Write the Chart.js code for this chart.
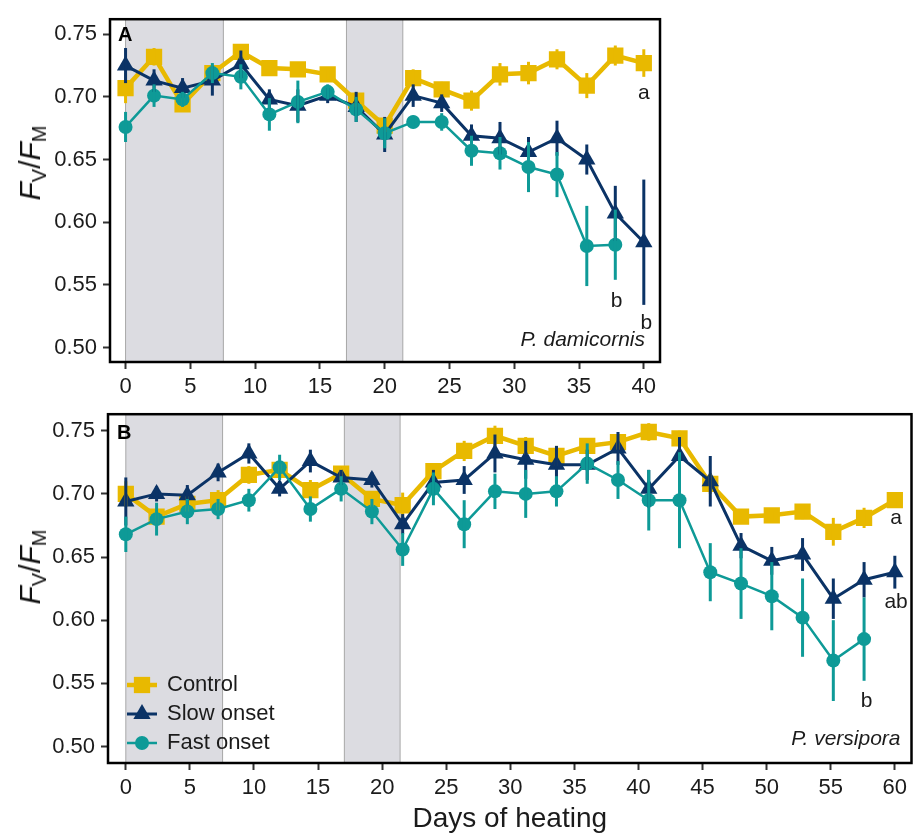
<!DOCTYPE html>
<html>
<head>
<meta charset="utf-8">
<script src="https://cdn.jsdelivr.net/npm/chart.js@4.4.0/dist/chart.umd.min.js"></script>
<style>
  body { margin: 0; background: #fff; width: 923px; height: 836px; position: relative; overflow: hidden;
         font-family: "Liberation Sans", Arial, sans-serif; }
  canvas { position: absolute; left: 0; }
  #chartA { top: 0; }
  #chartB { top: 395px; }
  .ylab { position: absolute; font-size: 30px; color: #111; white-space: nowrap;
          transform: translate(-50%, -50%) rotate(-90deg); }
  .ylab sub { font-size: 20px; vertical-align: baseline; position: relative; top: 0.3em; }
</style>
</head>
<body>
<canvas id="chartA" width="672" height="400" style="width:672px;height:400px"></canvas>
<canvas id="chartB" width="923" height="441" style="width:923px;height:441px"></canvas>
<div class="ylab" style="left:30px;top:163px"><i>F</i><sub>V</sub>/<i>F</i><sub>M</sub></div>
<div class="ylab" style="left:30px;top:567px"><i>F</i><sub>V</sub>/<i>F</i><sub>M</sub></div>
<script>
// ---- data ----
const daysA = [0, 2.2, 4.4, 6.7, 8.9, 11.1, 13.3, 15.6, 17.8, 20, 22.2, 24.4, 26.7, 28.9, 31.1, 33.3, 35.6, 37.8, 40];
const controlA    = [0.707, 0.732, 0.694, 0.719, 0.736, 0.723, 0.722, 0.718, 0.697, 0.677, 0.715, 0.706, 0.697, 0.718, 0.719, 0.730, 0.709, 0.733, 0.727];
const controlAErr = [0.012, 0.007, 0.006, 0.006, 0.006, 0.004, 0.005, 0.004, 0.005, 0.005, 0.007, 0.006, 0.008, 0.009, 0.009, 0.008, 0.010, 0.008, 0.011];
const slowA       = [0.725, 0.713, 0.707, 0.713, 0.726, 0.698, 0.693, 0.701, 0.692, 0.670, 0.701, 0.695, 0.669, 0.667, 0.656, 0.667, 0.650, 0.607, 0.584];
const slowAErr    = [0.014, 0.009, 0.008, 0.012, 0.011, 0.008, 0.013, 0.006, 0.012, 0.014, 0.009, 0.007, 0.009, 0.013, 0.012, 0.014, 0.012, 0.022, 0.050];
const fastA       = [0.676, 0.701, 0.698, 0.719, 0.716, 0.686, 0.696, 0.704, 0.690, 0.671, 0.680, 0.680, 0.657, 0.655, 0.644, 0.638, 0.581, 0.582, null];
const fastAErr    = [0.012, 0.009, 0.006, 0.008, 0.010, 0.013, 0.017, 0.006, 0.010, 0.012, 0.005, 0.007, 0.012, 0.013, 0.020, 0.018, 0.032, 0.028, null];

const daysB = [0, 2.4, 4.8, 7.2, 9.6, 12, 14.4, 16.8, 19.2, 21.6, 24, 26.4, 28.8, 31.2, 33.6, 36, 38.4, 40.8, 43.2, 45.6, 48, 50.4, 52.8, 55.2, 57.6, 60];
const controlB    = [0.700, 0.682, 0.692, 0.695, 0.715, 0.719, 0.703, 0.716, 0.696, 0.691, 0.718, 0.734, 0.746, 0.738, 0.730, 0.738, 0.741, 0.749, 0.744, 0.708, 0.682, 0.683, 0.686, 0.670, 0.681, 0.695];
const controlBErr = [0.010, 0.006, 0.006, 0.008, 0.007, 0.005, 0.008, 0.005, 0.006, 0.010, 0.006, 0.008, 0.008, 0.007, 0.008, 0.006, 0.006, 0.007, 0.006, 0.008, 0.005, 0.004, 0.006, 0.011, 0.008, 0.004];
const slowB       = [0.694, 0.700, 0.699, 0.717, 0.732, 0.704, 0.726, 0.713, 0.711, 0.676, 0.709, 0.711, 0.732, 0.727, 0.723, 0.723, 0.736, 0.704, 0.730, 0.710, 0.659, 0.647, 0.652, 0.617, 0.632, 0.638];
const slowBErr    = [0.019, 0.006, 0.008, 0.007, 0.008, 0.006, 0.009, 0.006, 0.006, 0.008, 0.010, 0.011, 0.015, 0.015, 0.015, 0.012, 0.013, 0.015, 0.015, 0.020, 0.010, 0.011, 0.013, 0.016, 0.014, 0.013];
const fastB       = [0.668, 0.680, 0.686, 0.688, 0.695, 0.721, 0.688, 0.704, 0.686, 0.656, 0.704, 0.676, 0.702, 0.700, 0.702, 0.724, 0.711, 0.695, 0.695, 0.638, 0.629, 0.619, 0.602, 0.568, 0.585, null];
const fastBErr    = [0.014, 0.013, 0.010, 0.008, 0.009, 0.010, 0.010, 0.010, 0.010, 0.013, 0.013, 0.019, 0.014, 0.019, 0.012, 0.016, 0.015, 0.024, 0.038, 0.023, 0.028, 0.027, 0.031, 0.032, 0.033, null];

// heating periods (shaded), in days
const shadeDays = [[0, 7.55], [17.05, 21.4]];

const xTicksA = [0, 5, 10, 15, 20, 25, 30, 35, 40];
const xTicksB = [0, 5, 10, 15, 20, 25, 30, 35, 40, 45, 50, 55, 60];
const yTicks  = [0.50, 0.55, 0.60, 0.65, 0.70, 0.75];

const lettersA = [{x: 40, y: 0.703, text: 'a'}, {x: 37.9, y: 0.537, text: 'b'}, {x: 40.2, y: 0.519, text: 'b'}];
const lettersB = [{x: 60.1, y: 0.681, text: 'a'}, {x: 60.1, y: 0.614, text: 'ab'}, {x: 57.8, y: 0.536, text: 'b'}];

const seriesNames = ['Control', 'Slow onset', 'Fast onset'];

// ---- styling ----
const FONT = '"Liberation Sans", Arial, sans-serif';
const COL = { control: '#E8B900', slow: '#0B3366', fast: '#0E9A97' };
const INK = '#1b1b1b';

function pts(days, vals) {
    return days.map((d, i) => ({x: d, y: vals[i]}));
}

function makeDatasets(days, c, ce, s, se, f, fe) {
    return [
        { label: seriesNames[0], data: pts(days, c), errors: ce, borderColor: COL.control, backgroundColor: COL.control,
          borderWidth: 4.5, pointStyle: 'rect', pointRadius: 11.5, order: 3 },
        { label: seriesNames[1], data: pts(days, s), errors: se, borderColor: COL.slow, backgroundColor: COL.slow,
          borderWidth: 3, pointStyle: 'triangle', pointRadius: 10, order: 2 },
        { label: seriesNames[2], data: pts(days, f), errors: fe, borderColor: COL.fast, backgroundColor: COL.fast,
          borderWidth: 2.5, pointStyle: 'circle', pointRadius: 7, order: 1 }
    ].map(ds => Object.assign(ds, { pointBorderWidth: 0, pointHoverRadius: ds.pointRadius, tension: 0, spanGaps: false }));
}

function marker(ctx, style, x, y, r) {
    ctx.beginPath();
    if (style === 'rect') {
        const h = Math.SQRT1_2 * r;
        ctx.rect(x - h, y - h, 2 * h, 2 * h);
    } else if (style === 'triangle') {
        for (let k = 0; k < 3; k++) {
            const a = k * 2 * Math.PI / 3;
            const px = x + Math.sin(a) * r, py = y - Math.cos(a) * r;
            k ? ctx.lineTo(px, py) : ctx.moveTo(px, py);
        }
        ctx.closePath();
    } else {
        ctx.arc(x, y, r, 0, Math.PI * 2);
    }
    ctx.fill();
}

const decor = {
    id: 'decor',
    beforeDatasetsDraw(chart, args, opts) {
        const {ctx, chartArea: a, scales: {x}} = chart;
        ctx.save();
        shadeDays.forEach(([s0, s1]) => {
            const x0 = x.getPixelForValue(s0), x1 = x.getPixelForValue(s1);
            ctx.fillStyle = '#DCDCE1';
            ctx.fillRect(x0, a.top, x1 - x0, a.bottom - a.top);
            ctx.strokeStyle = '#A8A8A8';
            ctx.lineWidth = 1;
            ctx.beginPath();
            ctx.moveTo(x0, a.top); ctx.lineTo(x0, a.bottom);
            ctx.moveTo(x1, a.top); ctx.lineTo(x1, a.bottom);
            ctx.stroke();
        });
        ctx.restore();
    },
    afterDatasetsDraw(chart) {
        // error bars (mean +/- SE)
        const {ctx, scales: {x, y}} = chart;
        ctx.save();
        chart.data.datasets.forEach(ds => {
            ctx.strokeStyle = ds.borderColor;
            ctx.lineWidth = 3;
            ds.data.forEach((p, i) => {
                if (p.y == null) return;
                const e = ds.errors[i];
                const px = x.getPixelForValue(p.x);
                ctx.beginPath();
                ctx.moveTo(px, y.getPixelForValue(p.y - e));
                ctx.lineTo(px, y.getPixelForValue(p.y + e));
                ctx.stroke();
            });
        });
        ctx.restore();
    },
    afterDraw(chart, args, opts) {
        const {ctx, chartArea: a, scales: {x, y}} = chart;
        ctx.save();
        // frame
        ctx.strokeStyle = '#000';
        ctx.lineWidth = 2.5;
        ctx.strokeRect(a.left, a.top, a.right - a.left, a.bottom - a.top);

        // panel letter
        ctx.fillStyle = '#000';
        ctx.font = 'bold 20px ' + FONT;
        ctx.textAlign = 'left';
        ctx.textBaseline = 'middle';
        ctx.fillText(opts.panel, a.left + opts.panelDx, a.top + opts.panelDy);

        // species
        ctx.fillStyle = INK;
        ctx.font = 'italic 21px ' + FONT;
        ctx.textAlign = 'right';
        ctx.textBaseline = 'alphabetic';
        ctx.fillText(opts.species, a.right - opts.speciesDx, a.bottom - opts.speciesDy);

        // significance letters
        ctx.font = '21px ' + FONT;
        ctx.textAlign = 'center';
        ctx.textBaseline = 'middle';
        opts.letters.forEach(l => ctx.fillText(l.text, x.getPixelForValue(l.x), y.getPixelForValue(l.y)));

        // legend
        if (opts.legend) {
            const rows = [a.bottom - 78, a.bottom - 49, a.bottom - 20];
            chart.data.datasets.forEach((ds, i) => {
                const cy = rows[i], cx = a.left + 32;
                ctx.strokeStyle = ds.borderColor;
                ctx.fillStyle = ds.backgroundColor;
                ctx.lineWidth = ds.borderWidth;
                ctx.beginPath();
                ctx.moveTo(cx - 13, cy); ctx.lineTo(cx + 17, cy);
                ctx.stroke();
                marker(ctx, ds.pointStyle, cx + 2, cy, ds.pointRadius);
                ctx.fillStyle = INK;
                ctx.font = '22px ' + FONT;
                ctx.textAlign = 'left';
                ctx.fillText(ds.label, cx + 27, cy);
            });
        }
        ctx.restore();
    }
};

function axisOptions(xmin, xmax, ymin, ymax, xTicks, yAxisWidth, xAxisHeight, xTitle) {
    const grid = { drawOnChartArea: false, drawTicks: true, tickLength: 7, tickColor: '#333', tickWidth: 2 };
    return {
        x: {
            type: 'linear', min: xmin, max: xmax,
            afterBuildTicks: s => { s.ticks = xTicks.map(v => ({value: v})); },
            afterFit: s => { s.height = xAxisHeight; },
            ticks: { autoSkip: false, maxRotation: 0, padding: 5, color: INK, font: {family: FONT, size: 22} },
            grid: grid,
            border: { display: false },
            title: { display: !!xTitle, text: xTitle || '', color: INK, padding: 0, font: {family: FONT, size: 28} }
        },
        y: {
            type: 'linear', min: ymin, max: ymax,
            afterBuildTicks: s => { s.ticks = yTicks.map(v => ({value: v})); },
            afterFit: s => { s.width = yAxisWidth; },
            ticks: { padding: 6, color: INK, font: {family: FONT, size: 22}, callback: v => v.toFixed(2) },
            grid: grid,
            border: { display: false }
        }
    };
}

new Chart(document.getElementById('chartA'), {
    type: 'line',
    data: { datasets: makeDatasets(daysA, controlA, controlAErr, slowA, slowAErr, fastA, fastAErr) },
    options: {
        responsive: false, animation: false,
        layout: { padding: { left: 0, right: 12, top: 10, bottom: 0 } },
        scales: axisOptions(-1.2, 41.25, 0.4884, 0.762, xTicksA, 110, 38),
        plugins: {
            legend: { display: false }, tooltip: { enabled: false },
            decor: { panel: 'A', panelDx: 8, panelDy: 16, species: 'P. damicornis', speciesDx: 15, speciesDy: 16,
                     letters: lettersA, legend: false }
        }
    },
    plugins: [decor]
});

new Chart(document.getElementById('chartB'), {
    type: 'line',
    data: { datasets: makeDatasets(daysB, controlB, controlBErr, slowB, slowBErr, fastB, fastBErr) },
    options: {
        responsive: false, animation: false,
        layout: { padding: { left: 0, right: 3, top: 10, bottom: 0 } },
        scales: axisOptions(-1.39, 61.3, 0.4869, 0.7631, xTicksB, 108, 73, 'Days of heating'),
        plugins: {
            legend: { display: false }, tooltip: { enabled: false },
            decor: { panel: 'B', panelDx: 9, panelDy: 19, species: 'P. versipora', speciesDx: 11, speciesDy: 18,
                     letters: lettersB, legend: true }
        }
    },
    plugins: [decor]
});
</script>
</body>
</html>
